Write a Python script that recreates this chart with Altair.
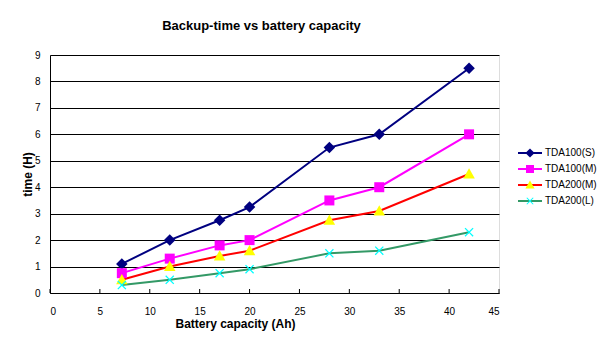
import altair as alt
import pandas as pd

# ---- data ----
capacity = [7.2, 12, 17, 20, 28, 33, 42]
series_names = ["TDA100(S)", "TDA100(M)", "TDA200(M)", "TDA200(L)"]
tda100_s = [1.1, 2.0, 2.75, 3.25, 5.5, 6.0, 8.5]
tda100_m = [0.75, 1.3, 1.8, 2.0, 3.5, 4.0, 6.0]
tda200_m = [0.5, 1.0, 1.4, 1.6, 2.75, 3.1, 4.5]
tda200_l = [0.3, 0.5, 0.75, 0.9, 1.5, 1.6, 2.3]
x_ticks = [0, 5, 10, 15, 20, 25, 30, 35, 40, 45]
y_ticks = [0, 1, 2, 3, 4, 5, 6, 7, 8, 9]

line_colors = ["#000080", "#FF00FF", "#FF0000", "#339966"]
marker_colors = ["#000080", "#FF00FF", "#FFFF00", "#00FFFF"]
DIAMOND = "M0,-1.15L1.15,0L0,1.15L-1.15,0Z"
SQUARE = "M-1,-1L1,-1L1,1L-1,1Z"
TRIANGLE = "M0,-1.15L1.15,0.9L-1.15,0.9Z"
X_PATH = ("M0,-0.18L0.72,-0.9L0.9,-0.72L0.18,0L0.9,0.72L0.72,0.9L0,0.18L-0.72,0.9"
          "L-0.9,0.72L-0.18,0L-0.9,-0.72L-0.72,-0.9Z")
marker_shapes = [DIAMOND, SQUARE, TRIANGLE, X_PATH]
marker_keys = ["m_" + n for n in series_names]

rows = []
for name, key, vals in zip(series_names, marker_keys, [tda100_s, tda100_m, tda200_m, tda200_l]):
    for i, (c, v) in enumerate(zip(capacity, vals)):
        rows.append({"series": name, "marker": key, "cap": c, "time": v, "o": i})
df = pd.DataFrame(rows)
tick_df = pd.DataFrame({"cap": x_ticks})

FONT = "Liberation Sans"
LX, LY = 475, 93

x_enc = alt.X("cap:Q", scale=alt.Scale(domain=[0, 45], nice=False),
              axis=alt.Axis(values=x_ticks, grid=False, title="Battery capacity (Ah)",
                            ticks=False, domainColor="#000",
                            labelPadding=13, labelFont=FONT, labelFontSize=10, labelColor="#000",
                            titleFont=FONT, titleFontSize=12, titleFontWeight="bold",
                            titleX=185, titleY=30, titleBaseline="middle", titleAlign="center"))
y_enc = alt.Y("time:Q", scale=alt.Scale(domain=[0, 9], nice=False),
              axis=alt.Axis(values=y_ticks, grid=True, gridColor="#000", gridOpacity=1,
                            ticks=False, domainColor="#000", title="time (H)",
                            labelPadding=10, labelFont=FONT, labelFontSize=10, labelColor="#000",
                            labelOverlap=False,
                            titleFont=FONT, titleFontSize=12, titleFontWeight="bold",
                            titleX=-23, titleY=119, titleBaseline="middle", titleAlign="center"))

# inward x-axis tick marks
ticks = alt.Chart(tick_df).mark_rule(color="#000", strokeWidth=1).encode(
    x=x_enc,
    y=alt.value(238), y2=alt.value(234),
)

lines = alt.Chart(df).mark_line(strokeWidth=2).encode(
    x=x_enc, y=y_enc,
    order="o:Q",
    color=alt.Color("series:N", scale=alt.Scale(domain=series_names, range=line_colors),
                    legend=alt.Legend(orient="none", legendX=LX, legendY=LY, title=None,
                                      padding=0, rowPadding=6,
                                      symbolType="M-3,0L3,0", symbolSize=64,
                                      symbolStrokeWidth=2, labelOffset=10,
                                      labelFont=FONT, labelFontSize=10, labelColor="#000")),
)

pt_legend = alt.Legend(orient="none", legendX=LX, legendY=LY, title=None,
                       padding=0, rowPadding=6, symbolSize=64, symbolStrokeWidth=0,
                       labelOffset=10, labelFont=FONT, labelFontSize=10, labelExpr="''")
points = alt.Chart(df).mark_point(filled=True, opacity=1, size=100, strokeWidth=0).encode(
    x=x_enc, y=y_enc,
    fill=alt.Fill("marker:N", scale=alt.Scale(domain=marker_keys, range=marker_colors),
                  legend=pt_legend),
    shape=alt.Shape("marker:N", scale=alt.Scale(domain=marker_keys, range=marker_shapes),
                    legend=pt_legend),
)

chart = alt.layer(ticks, lines, points).properties(
    width=449, height=238,
    autosize=alt.AutoSizeParams(type="none"),
    padding={"left": 50, "top": 55, "right": 109, "bottom": 58},
    title=alt.TitleParams("Backup-time vs battery capacity", font=FONT, fontSize=13,
                          fontWeight="bold", color="#000", dx=-13, offset=17),
).configure_view(stroke="#808080", strokeWidth=1).configure(background="#ffffff")

chart.save("out.html", embed_options={"renderer": "svg", "actions": False})
